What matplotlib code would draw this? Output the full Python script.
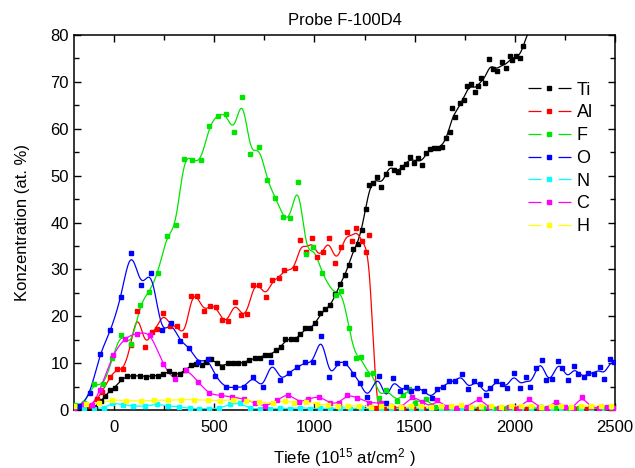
import numpy as np
import matplotlib
matplotlib.use("Agg")
import matplotlib.pyplot as plt
from matplotlib.ticker import MultipleLocator

plt.rcParams['font.family'] = ['Liberation Sans', 'DejaVu Sans']
plt.rcParams['mathtext.fontset'] = 'custom'
plt.rcParams['mathtext.rm'] = 'Liberation Sans'
plt.rcParams['mathtext.it'] = 'Liberation Sans:italic'

# Ti
ti_x = [-200, -160, -125, -97, -67, -45, -20, 5, 37, 67, 97, 128, 158, 187, 217, 245, 275, 300, 327,
        355, 383, 410, 438, 460, 483, 513, 538, 567, 592, 618, 647, 675, 702, 727, 755, 780, 808, 833,
        855, 885, 910, 930, 955, 980, 1005, 1030, 1055, 1080, 1105, 1127, 1152, 1172, 1192, 1217, 1235,
        1255, 1272, 1292, 1313, 1333, 1355, 1375, 1395, 1415, 1435, 1455, 1475, 1495, 1515, 1535, 1555,
        1575, 1595, 1615, 1635, 1657, 1675, 1685, 1703, 1725, 1745, 1763, 1783, 1803, 1815, 1833, 1853,
        1873, 1893, 1913, 1935, 1955, 1975, 1985, 2005, 2025, 2043, 2070]
ti_y = [0.1, 0.2, 0.3, 0.5, 2.0, 2.9, 4.3, 4.8, 6.6, 7.2, 7.3, 7.3, 7.1, 7.3, 7.3, 7.7, 8.3, 7.6, 7.7,
        8.6, 9.5, 9.9, 9.6, 10.2, 10.9, 10.0, 9.2, 10.1, 10.0, 10.0, 10.1, 10.7, 11.0, 11.2, 11.8, 11.8,
        12.7, 13.4, 15.1, 15.1, 15.1, 16.2, 17.4, 17.4, 18.5, 20.6, 21.5, 22.3, 24.7, 26.9, 28.8, 31.0,
        34.3, 35.4, 38.5, 42.8, 48.0, 48.5, 49.8, 47.5, 50.3, 52.6, 51.2, 50.8, 51.8, 52.4, 54.0, 52.8,
        53.7, 52.3, 54.9, 55.6, 55.8, 55.9, 56.2, 58.0, 59.3, 64.4, 62.6, 65.6, 66.1, 69.1, 69.5, 67.8,
        69.1, 70.9, 69.8, 74.9, 72.7, 72.4, 74.2, 72.9, 75.6, 74.7, 75.6, 75.1, 77.7, 82.0]

# Al
al_x = [-200, -150, -120, -87, -60, -20, 13, 47, 83, 117, 152, 188, 212, 245, 278, 312, 355, 383, 413,
        447, 477, 510, 538, 568, 602, 633, 663, 695, 725, 758, 788, 822, 850, 905, 930, 960, 988, 1013,
        1043, 1072, 1105, 1135, 1165, 1185, 1205, 1235, 1255, 1272, 1305, 1345, 1390, 1440, 1490, 1540,
        1590, 1640, 1700, 1760, 1820, 1880, 1940, 2000, 2060, 2120, 2180, 2240, 2300, 2360, 2420, 2480]
al_y = [0.5, 0.6, 0.8, 2.3, 3.9, 7.1, 8.7, 8.7, 13.9, 21.2, 13.5, 16.7, 17.3, 20.8, 18.0, 18.0, 16.1,
        24.4, 24.4, 21.1, 22.2, 22.0, 19.2, 19.0, 23.1, 20.3, 20.5, 26.7, 26.6, 24.2, 27.7, 28.1, 29.9,
        30.4, 36.2, 33.8, 36.7, 32.6, 33.8, 36.6, 31.3, 34.8, 38.0, 36.1, 38.9, 36.0, 33.8, 37.3, 0.5,
        0.3, 0.4, 0.3, 0.2, 0.3, 0.2, 0.3, 0.2, 0.3, 0.2, 0.3, 0.2, 0.3, 0.2, 0.3, 0.2, 0.3, 0.2, 0.3,
        0.2, 0.3]

# F
f_x = [-195, -150, -100, -53, -8, 35, 83, 130, 173, 217, 263, 307, 348, 390, 432, 475, 517, 558, 598,
       640, 680, 723, 763, 805, 845, 880, 918, 960, 993, 1038, 1108, 1135, 1172, 1205, 1233, 1263, 1293,
       1322, 1355, 1413, 1443, 1470, 1502, 1555, 1600, 1660, 1720, 1780, 1840, 1900, 1960, 2020, 2080,
       2140, 2200, 2260, 2320, 2380, 2440, 2500]
f_y = [1.1, 1.6, 5.5, 5.5, 11.2, 16.1, 14.1, 22.4, 25.2, 29.2, 37.1, 39.5, 53.5, 53.3, 53.3, 60.5, 62.8,
       63.1, 59.4, 66.8, 54.7, 56.2, 49.1, 45.3, 41.2, 41.0, 48.6, 33.3, 34.8, 29.2, 24.6, 25.4, 17.4,
       11.2, 11.4, 7.7, 7.9, 2.6, 4.3, 2.0, 3.3, 4.4, 1.6, 2.3, 0.6, 0.4, 0.5, 0.3, 0.4, 0.3, 0.4, 0.3,
       0.4, 0.3, 0.4, 0.3, 0.4, 0.3, 0.4, 0.3]

# O
o_x = [-200, -170, -122, -70, -18, 33, 83, 135, 185, 237, 283, 330, 375, 420, 467, 505, 558, 605, 647,
       693, 742, 785, 830, 873, 915, 955, 993, 1035, 1075, 1113, 1155, 1193, 1228, 1262, 1323, 1355,
       1393, 1427, 1455, 1483, 1513, 1547, 1585, 1613, 1643, 1673, 1703, 1735, 1765, 1797, 1825, 1855,
       1875, 1905, 1935, 1963, 1995, 2027, 2057, 2075, 2107, 2135, 2157, 2185, 2215, 2237, 2263, 2295,
       2317, 2347, 2367, 2395, 2425, 2445, 2473, 2493, 2515]
o_y = [0.3, 0.9, 3.7, 11.9, 17.1, 24.1, 33.5, 26.6, 29.2, 17.0, 18.5, 14.7, 13.3, 10.2, 10.8, 7.3, 4.9,
       4.9, 4.9, 7.0, 4.9, 10.2, 6.5, 8.0, 9.1, 10.2, 10.2, 15.8, 7.1, 10.1, 10.1, 7.7, 5.8, 2.7, 7.3,
       1.6, 6.8, 4.0, 5.0, 4.0, 4.8, 4.0, 2.6, 4.5, 5.0, 6.1, 6.1, 7.6, 4.4, 6.1, 5.5, 3.1, 4.6, 6.1,
       5.5, 4.8, 8.0, 4.8, 7.1, 4.9, 8.9, 10.6, 6.3, 6.7, 10.4, 9.0, 6.4, 9.4, 7.7, 7.0, 8.0, 7.7, 9.1,
       6.7, 10.8, 10.2, 8.5]

# N
n_x = [-200, -150, -100, -50, -12, 47, 97, 155, 213, 267, 322, 378, 425, 475, 525, 577, 627, 677, 730,
       780, 830, 880, 930, 980, 1030, 1080, 1130, 1180, 1230, 1280, 1330, 1380, 1430, 1480, 1530, 1580,
       1630, 1680, 1730, 1780, 1830, 1880, 1930, 1980, 2030, 2080, 2130, 2180, 2230, 2280, 2330, 2380,
       2430, 2480]
n_y = [0.1, 0.2, 0.3, 0.5, 1.4, 1.1, 0.85, 0.85, 1.2, 0.85, 0.7, 0.35, 0.3, 0.3, 0.4, 1.2, 1.4, 0.4,
       0.3, 0.3, 0.4, 0.3, 0.5, 0.3, 0.4, 0.3, 0.5, 0.3, 0.4, 0.3, 0.2, 0.4, 0.3, 0.5, 0.3, 0.4, 0.3,
       0.5, 0.3, 0.4, 0.6, 0.3, 0.4, 0.3, 0.5, 0.4, 0.6, 0.3, 0.5, 0.4, 0.3, 0.5, 0.4, 0.6]

# C
c_x = [-200, -150, -110, -72, -5, 55, 117, 180, 245, 303, 358, 420, 475, 533, 588, 647, 705, 755, 813,
       867, 922, 967, 1025, 1077, 1122, 1163, 1213, 1272, 1330, 1380, 1430, 1488, 1535, 1580, 1613,
       1660, 1710, 1760, 1822, 1870, 1920, 1970, 2020, 2072, 2120, 2160, 2205, 2250, 2290, 2333, 2380,
       2420, 2460, 2500]
c_y = [0.3, 1.3, 1.0, 4.3, 11.7, 15.2, 16.3, 15.9, 9.8, 6.6, 8.5, 5.9, 3.6, 3.1, 2.8, 2.3, 1.5, 0.9,
       2.1, 3.3, 1.8, 2.3, 2.8, 1.5, 1.6, 3.1, 2.6, 1.6, 1.5, 0.8, 0.6, 2.7, 1.8, 0.8, 2.1, 0.6, 0.5,
       0.7, 2.3, 0.6, 0.5, 0.6, 0.5, 2.3, 0.6, 0.5, 1.8, 0.6, 0.5, 2.7, 0.6, 0.5, 0.6, 0.5]

# H
h_x = [-200, -142, -75, -8, 62, 133, 200, 267, 335, 400, 467, 530, 593, 658, 725, 792, 855, 897, 960,
       1013, 1070, 1120, 1170, 1220, 1280, 1330, 1380, 1430, 1480, 1530, 1580, 1630, 1680, 1730, 1780,
       1830, 1880, 1930, 1980, 2030, 2080, 2130, 2180, 2230, 2280, 2330, 2380, 2430, 2480]
h_y = [0.8, 1.2, 1.5, 2.1, 2.0, 1.9, 2.1, 2.1, 2.2, 2.2, 2.1, 2.0, 2.2, 2.0, 1.7, 1.5, 2.0, 1.5, 1.7,
       1.3, 1.0, 0.9, 0.8, 0.9, 0.7, 0.8, 0.9, 0.7, 0.9, 0.8, 0.7, 0.9, 0.8, 1.0, 0.7, 0.9, 0.8, 0.7,
       0.9, 0.8, 0.9, 0.7, 0.8, 0.9, 0.7, 0.8, 0.9, 0.8, 0.9]

series = [("Ti", ti_x, ti_y, "#000000"),
          ("Al", al_x, al_y, "#ff0000"),
          ("F", f_x, f_y, "#00e600"),
          ("O", o_x, o_y, "#0000ff"),
          ("N", n_x, n_y, "#00ffff"),
          ("C", c_x, c_y, "#ff00ff"),
          ("H", h_x, h_y, "#ffff00")]


def smooth(x, y, step=2.0, sigma=17.0):
    # Hermite-Kurve durch die Punkte, danach leicht geglaettet (wie Origin B-Spline)
    x = np.asarray(x, float)
    y = np.asarray(y, float)
    m = np.empty_like(y)
    m[1:-1] = (y[2:] - y[:-2]) / (x[2:] - x[:-2])
    m[0] = (y[1] - y[0]) / (x[1] - x[0])
    m[-1] = (y[-1] - y[-2]) / (x[-1] - x[-2])
    xs = np.arange(x[0], x[-1], step)
    idx = np.clip(np.searchsorted(x, xs, side="right") - 1, 0, len(x) - 2)
    h = x[idx + 1] - x[idx]
    t = (xs - x[idx]) / h
    ys = ((2 * t**3 - 3 * t**2 + 1) * y[idx] + (t**3 - 2 * t**2 + t) * h * m[idx]
          + (-2 * t**3 + 3 * t**2) * y[idx + 1] + (t**3 - t**2) * h * m[idx + 1])
    k = np.arange(-3 * sigma, 3 * sigma + step, step)
    g = np.exp(-0.5 * (k / sigma) ** 2)
    g /= g.sum()
    pad = len(k) // 2
    yp = np.concatenate([np.full(pad, ys[0]), ys, np.full(pad, ys[-1])])
    ys = np.convolve(yp, g, mode="valid")[:len(xs)]
    return xs, ys


fig = plt.figure(figsize=(6.35, 4.68), dpi=100)
ax = fig.add_axes([0.1165, 0.1239, 0.852, 0.8013])

handles = []
for name, x, y, col in series:
    sx, sy = smooth(x, y)
    ax.plot(sx, sy, color=col, lw=0.9, zorder=2)
    ax.plot(x, y, ls="none", marker="s", ms=3.4, color=col, mec=col, zorder=3)
    h, = ax.plot([], [], color=col, lw=0.9, marker="s", ms=3.4, mec=col,
                 ls=(0, (10.4, 13.6, 10.4, 100)))
    h.set_label(name)
    handles.append(h)

ax.set_xlim(-200, 2500)
ax.set_ylim(0, 80)
ax.xaxis.set_major_locator(MultipleLocator(500))
ax.xaxis.set_minor_locator(MultipleLocator(250))
ax.yaxis.set_major_locator(MultipleLocator(10))
ax.yaxis.set_minor_locator(MultipleLocator(5))
ax.tick_params(which="both", direction="in", top=True, right=True, labelsize=12, width=1.0)
ax.tick_params(which="major", length=5)
ax.tick_params(which="minor", length=3.5)
ax.tick_params(axis="x", pad=7)
for sp in ax.spines.values():
    sp.set_linewidth(1.1)

ax.set_title("Probe F-100D4", fontsize=12, pad=7)
ax.set_xlabel("Tiefe (10$^{15}$ at/cm$^2$ )", fontsize=12, labelpad=8)
ax.set_ylabel("Konzentration (at. %)", fontsize=12, labelpad=15)

ax.legend(handles=handles, loc="upper left", bbox_to_anchor=(0.822, 0.9), frameon=False,
          fontsize=13, handlelength=2.4, handletextpad=0.3, labelspacing=0.32, borderpad=0,
          numpoints=1)

fig.savefig("out.png", dpi=100)
